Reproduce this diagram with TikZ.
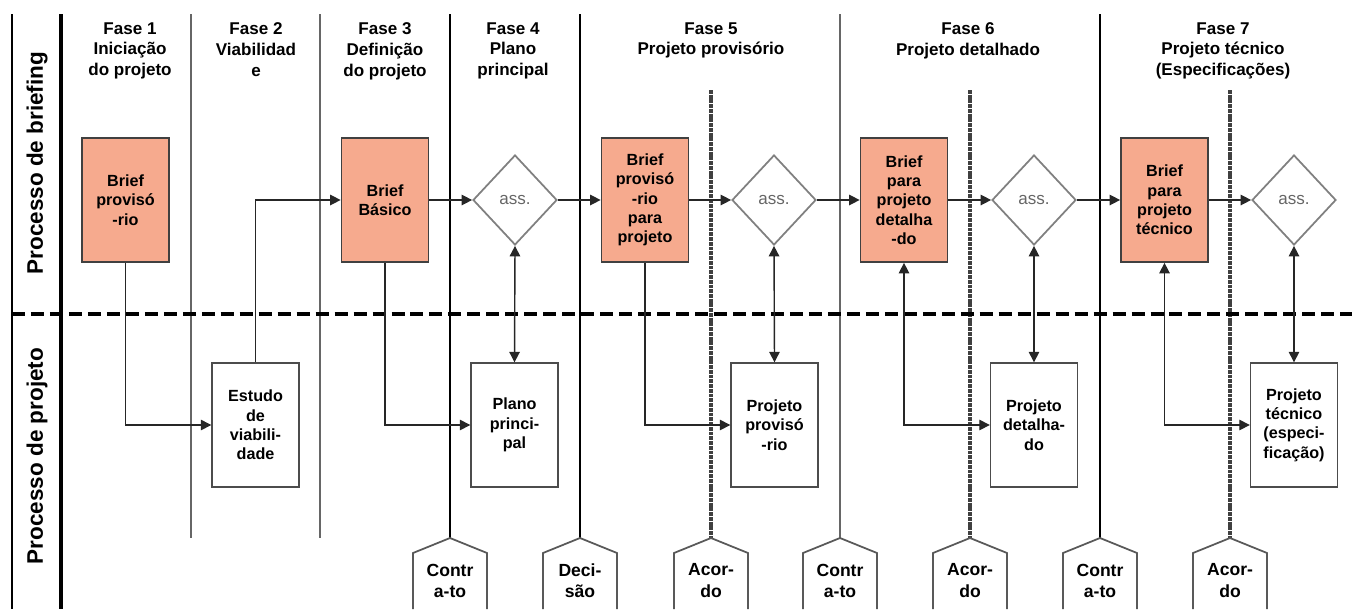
\documentclass[tikz,border=0pt]{standalone}
\usepackage{fontspec}
\setmainfont{Liberation Sans}
\usetikzlibrary{arrows.meta,shapes.geometric}
\definecolor{briefcol}{RGB}{246,170,142}
\tikzset{
  block/.style={draw=black!75, line width=1pt, align=center, fill=white,
    minimum width=1.74cm, minimum height=2.48cm, inner sep=2pt,
    font=\bfseries\fontsize{9.2}{11}\selectfont},
  briefblock/.style={block, fill=briefcol},
  projblock/.style={block, draw=black!70, line width=0.8pt},
  assblock/.style={diamond, draw=black!50, line width=1pt, fill=white,
    minimum width=1.68cm, minimum height=1.8cm, inner sep=0pt, text=black!60,
    font=\fontsize{9.7}{11}\selectfont},
  phase/.style={align=center, inner sep=0pt, anchor=north,
    font=\bfseries\fontsize{9.7}{11.9}\selectfont},
  lane/.style={rotate=90, font=\bfseries\fontsize{12.8}{14}\selectfont},
  marker/.style={align=center, inner sep=0pt, font=\bfseries\fontsize{10}{12}\selectfont},
  markerline/.style={draw=black!65, line width=1pt},
  arr/.style={-{Triangle[length=6pt,width=6pt]}, line width=0.8pt, draw=black!85},
  darr/.style={{Triangle[length=6pt,width=6pt]}-{Triangle[length=6pt,width=6pt]},
    line width=0.8pt, draw=black!85},
  thinsep/.style={draw=black!60, line width=0.8pt},
  thicksep/.style={draw=black, line width=1.3pt},
  dotsep/.style={draw=black!75, line width=1.8pt, dash pattern=on 2.2pt off 0.5pt},
  lanesplit/.style={draw=black, line width=2.8pt, dash pattern=on 7.4pt off 3.4pt}
}

\begin{document}
\begin{tikzpicture}[x=0.02cm, y=-0.02cm]
  \useasboundingbox (0,0) rectangle (1352,609);

  % lanes and phase borders
  \draw[thicksep] (12,14) -- (12,609);
  \draw[draw=black, line width=2.2pt] (61,14) -- (61,609);
  \draw[thinsep] (191,14) -- (191,538);
  \draw[thinsep] (320,14) -- (320,538);
  \draw[thicksep] (450,14) -- (450,538);
  \draw[thicksep] (580,14) -- (580,538);
  \draw[thinsep] (840,14) -- (840,538);
  \draw[thicksep] (1100,14) -- (1100,538);
  \draw[dotsep] (711,90) -- (711,538);
  \draw[dotsep] (970,90) -- (970,538);
  \draw[dotsep] (1230,90) -- (1230,538);
  \draw[lanesplit] (12,314) -- (1352,314);

  \node[lane] (lb) at (37,163) {Processo de briefing};
  \node[lane] (lp) at (37,456) {Processo de projeto};

  % phase titles
  \node[phase] (f1) at (130,22) {Fase 1\\Iniciação\\do projeto};
  \node[phase] (f2) at (256,22) {Fase 2\\Viabilidad\\e};
  \node[phase] (f3) at (385,22) {Fase 3\\Definição\\do projeto};
  \node[phase] (f4) at (513,22) {Fase 4\\Plano\\principal};
  \node[phase] (f5) at (711,22) {Fase 5\\Projeto provisório};
  \node[phase] (f6) at (968,22) {Fase 6\\Projeto detalhado};
  \node[phase] (f7) at (1223,22) {Fase 7\\Projeto técnico\\(Especificações)};

  % briefing lane
  \node[briefblock] (b1) at (125.5,200) {Brief\\provisó\\-rio};
  \node[briefblock] (b2) at (385,200) {Brief\\Básico};
  \node[assblock] (a1) at (515,200) {ass.};
  \node[briefblock] (b3) at (645,200) {Brief\\provisó\\-rio\\para\\projeto};
  \node[assblock] (a2) at (774,200) {ass.};
  \node[briefblock] (b4) at (904,200) {Brief\\para\\projeto\\detalha\\-do};
  \node[assblock] (a3) at (1034,200) {ass.};
  \node[briefblock] (b5) at (1164.5,200) {Brief\\para\\projeto\\técnico};
  \node[assblock] (a4) at (1294,200) {ass.};

  % project lane
  \node[projblock] (p1) at (255.5,425) {Estudo\\de\\viabili-\\dade};
  \node[projblock] (p2) at (514.5,425) {Plano\\princi-\\pal};
  \node[projblock] (p3) at (774.5,425) {Projeto\\provisó\\-rio};
  \node[projblock] (p4) at (1034,425) {Projeto\\detalha-\\do};
  \node[projblock] (p5) at (1294,425) {Projeto\\técnico\\(especi-\\ficação)};

  % milestones
  \node[marker] (m1) at (450,580.5) {Contr\\a-to};
  \node[marker] (m2) at (580,580.5) {Deci-\\são};
  \node[marker] (m3) at (711,580.5) {Acor-\\do};
  \node[marker] (m4) at (840,580.5) {Contr\\a-to};
  \node[marker] (m5) at (970,580.5) {Acor-\\do};
  \node[marker] (m6) at (1100,580.5) {Contr\\a-to};
  \node[marker] (m7) at (1230,580.5) {Acor-\\do};
  \foreach \i in {1,...,7}
    \draw[markerline] (m\i.center) ++(-37,28.5) -- ++(0,-56) -- ++(37,-15) -- ++(37,15) -- ++(0,56);

  % flow
  \draw[arr] (b1.south) |- (p1.west);
  \draw[arr] (p1.north) |- (b2.west);
  \draw[arr] (b2.south) |- (p2.west);
  \draw[arr] (b2.east) -- (a1.west);
  \draw[darr] (a1.south) -- (p2.north);
  \draw[arr] (a1.east) -- (b3.west);
  \draw[arr] (b3.south) |- (p3.west);
  \draw[arr] (b3.east) -- (a2.west);
  \draw[darr] (a2.south) -- (p3.north);
  \draw[arr] (a2.east) -- (b4.west);
  \draw[darr] (b4.south) |- (p4.west);
  \draw[arr] (b4.east) -- (a3.west);
  \draw[darr] (a3.south) -- (p4.north);
  \draw[arr] (a3.east) -- (b5.west);
  \draw[darr] (b5.south) |- (p5.west);
  \draw[arr] (b5.east) -- (a4.west);
  \draw[darr] (a4.south) -- (p5.north);
\end{tikzpicture}
\end{document}
